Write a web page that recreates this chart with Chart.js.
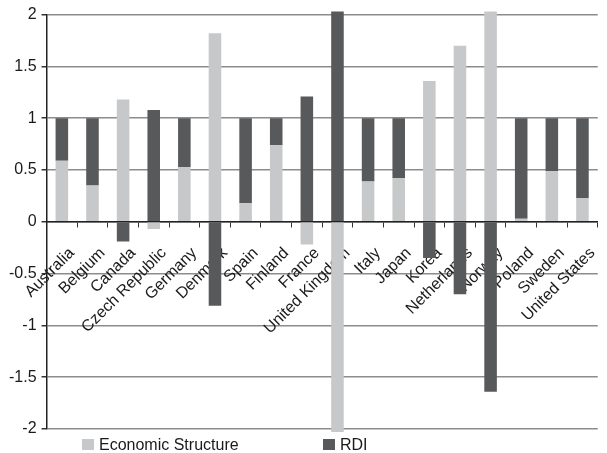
<!DOCTYPE html>
<html>
<head>
<meta charset="utf-8">
<script src="https://cdn.jsdelivr.net/npm/chart.js@4/dist/chart.umd.min.js"></script>
<style>
  html, body { margin: 0; padding: 0; background: #fff; overflow: hidden; }
  #wrap { width: 607px; height: 453px; overflow: hidden; position: relative; }
  canvas { display: block; }
</style>
</head>
<body>
<div id="wrap"><canvas id="c" width="613" height="453"></canvas></div>
<script>
const countries = ["Australia", "Belgium", "Canada", "Czech Republic", "Germany", "Denmark", "Spain", "Finland", "France", "United Kingdom", "Italy", "Japan", "Korea", "Netherlands", "Norway", "Poland", "Sweden", "United States"];
const economicStructure = [0.59, 0.35, 1.18, -0.07, 0.53, 1.82, 0.18, 0.74, -0.22, -2.4, 0.39, 0.42, 1.36, 1.70, 2.64, 0.03, 0.49, 0.23];
const rdi = [0.41, 0.65, -0.19, 1.08, 0.47, -0.81, 0.82, 0.26, 1.21, 3.4, 0.61, 0.58, -0.35, -0.70, -1.64, 0.97, 0.51, 0.77];
const yTicks = { min: -2, max: 2, step: 0.5 };
const seriesNames = ["Economic Structure", "RDI"];
const seriesColors = ["#c7c8c9", "#58595b"];

const FONT = "'Liberation Sans', Arial, sans-serif";

const legendPlugin = {
  id: 'customLegend',
  afterDraw(chart) {
    const ctx = chart.ctx;
    const pos = [82, 323];
    ctx.save();
    ctx.font = "16px " + FONT;
    ctx.textBaseline = 'alphabetic';
    ctx.textAlign = 'left';
    chart.data.datasets.forEach((ds, i) => {
      ctx.fillStyle = ds.backgroundColor;
      ctx.fillRect(pos[i], 439, 12, 11);
      ctx.fillStyle = '#1a1a1a';
      ctx.fillText(ds.label, pos[i] + 17, 450);
    });
    ctx.restore();
  }
};

new Chart(document.getElementById('c'), {
  type: 'bar',
  data: {
    labels: countries,
    datasets: [
      { label: seriesNames[0], data: economicStructure, backgroundColor: seriesColors[0], borderWidth: 0,
        barPercentage: 0.41, categoryPercentage: 1, clip: { left: 0, right: 0, top: 3, bottom: 3 } },
      { label: seriesNames[1], data: rdi, backgroundColor: seriesColors[1], borderWidth: 0,
        barPercentage: 0.41, categoryPercentage: 1, clip: { left: 0, right: 0, top: 3, bottom: 3 } }
    ]
  },
  options: {
    responsive: false,
    animation: false,
    devicePixelRatio: 1,
    layout: { padding: { top: 12, bottom: 24, left: 0, right: 0 } },
    plugins: {
      legend: { display: false },
      tooltip: { enabled: false },
      title: { display: false }
    },
    scales: {
      x: {
        stacked: true,
        position: { y: 0 },
        grid: { display: true, drawOnChartArea: false, drawTicks: true, tickLength: 5, color: '#333', offset: true },
        border: { display: true, color: '#222', width: 1.5 },
        ticks: {
          autoSkip: false, minRotation: 45, maxRotation: 45, padding: 17, labelOffset: 10,
          color: '#1a1a1a', font: { family: FONT, size: 16 }
        }
      },
      y: {
        stacked: true,
        min: yTicks.min, max: yTicks.max,
        afterFit(scale) { scale.width = 45.5; },
        grid: { color: '#8c8c8c', lineWidth: 1.5, tickLength: 5, tickColor: '#333' },
        border: { display: true, color: '#222', width: 1.5 },
        ticks: { stepSize: yTicks.step, padding: 5, color: '#1a1a1a', font: { family: FONT, size: 16 },
          callback: (v) => String(Number(v.toFixed(2))) }
      }
    }
  },
  plugins: [legendPlugin]
});
</script>
</body>
</html>
